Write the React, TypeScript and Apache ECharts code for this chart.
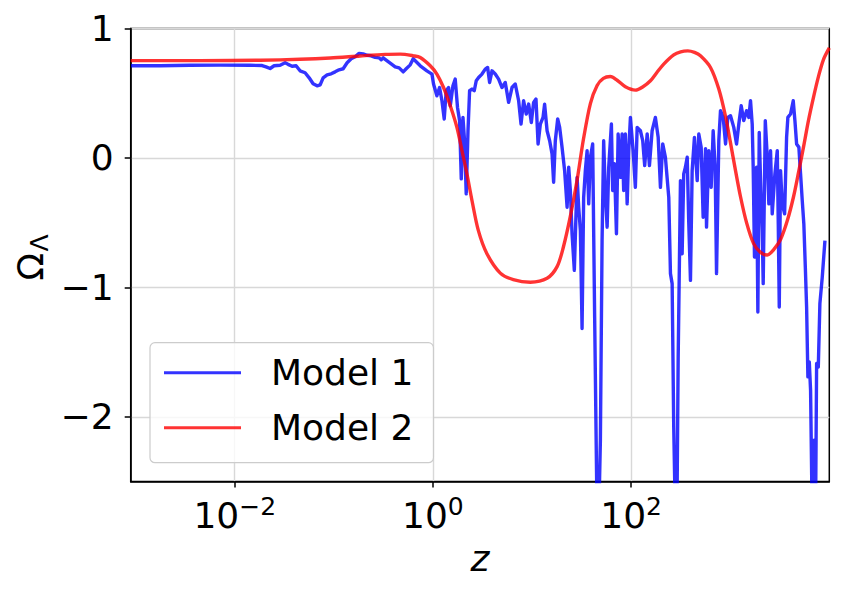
import React, { useEffect, useRef } from 'react';
import * as echarts from 'echarts';

// Model 1 (blue, noisy) — x stored as log10(z)
const blueLogZ = [
  -3.047, -2.755, -2.452, -2.148, -1.845, -1.724, -1.684, -1.643, -1.603, -1.542,
  -1.492, -1.462, -1.421, -1.381, -1.341, -1.290, -1.249, -1.209, -1.169, -1.138,
  -1.108, -1.068, -1.027, -0.987, -0.947, -0.906, -0.866, -0.825, -0.785, -0.745,
  -0.704, -0.664, -0.624, -0.583, -0.543, -0.522, -0.502, -0.462, -0.421, -0.381,
  -0.341, -0.300, -0.270, -0.229, -0.199, -0.128, -0.061, -0.010, 0.006, 0.040,
  0.067, 0.091, 0.114, 0.134, 0.158, 0.175, 0.202, 0.225, 0.248, 0.269,
  0.286, 0.303, 0.319, 0.336, 0.354, 0.370, 0.394, 0.417, 0.437, 0.461,
  0.495, 0.528, 0.552, 0.572, 0.596, 0.629, 0.663, 0.697, 0.730, 0.764,
  0.798, 0.831, 0.865, 0.889, 0.915, 0.942, 0.966, 0.993, 1.016, 1.040,
  1.061, 1.084, 1.111, 1.127, 1.152, 1.178, 1.202, 1.218, 1.235, 1.259,
  1.279, 1.303, 1.329, 1.354, 1.370, 1.387, 1.404, 1.427, 1.455, 1.471,
  1.488, 1.505, 1.521, 1.538, 1.556, 1.572, 1.589, 1.612, 1.632, 1.657,
  1.673, 1.690, 1.707, 1.723, 1.740, 1.758, 1.774, 1.801, 1.814, 1.831,
  1.852, 1.869, 1.892, 1.909, 1.925, 1.942, 1.960, 1.976, 1.993, 2.020,
  2.043, 2.061, 2.094, 2.117, 2.137, 2.162, 2.185, 2.212, 2.245, 2.273,
  2.296, 2.319, 2.346, 2.380, 2.397, 2.414, 2.430, 2.447, 2.462, 2.475,
  2.498, 2.515, 2.531, 2.548, 2.566, 2.582, 2.599, 2.616, 2.639, 2.667,
  2.683, 2.707, 2.727, 2.751, 2.761, 2.784, 2.808, 2.828, 2.848, 2.862,
  2.885, 2.902, 2.929, 2.953, 2.976, 3.003, 3.036, 3.064, 3.087, 3.111,
  3.137, 3.165, 3.188, 3.205, 3.222, 3.232, 3.245, 3.266, 3.279, 3.293,
  3.309, 3.323, 3.333, 3.354, 3.374, 3.390, 3.407, 3.424, 3.451, 3.475,
  3.485, 3.495, 3.508, 3.525, 3.549, 3.569, 3.582, 3.609, 3.636, 3.653,
  3.670, 3.693, 3.710, 3.727, 3.743, 3.758, 3.771, 3.784, 3.798, 3.811,
  3.828, 3.846, 3.861, 3.872, 3.889, 3.905, 3.929, 3.956,
];
const blueOmega = [
  0.712, 0.712, 0.716, 0.717, 0.716, 0.714, 0.704, 0.691, 0.712, 0.716,
  0.735, 0.723, 0.708, 0.712, 0.673, 0.658, 0.619, 0.573, 0.557, 0.565,
  0.619, 0.642, 0.650, 0.665, 0.681, 0.689, 0.735, 0.766, 0.781, 0.808,
  0.804, 0.793, 0.789, 0.777, 0.773, 0.758, 0.773, 0.750, 0.727, 0.704,
  0.696, 0.665, 0.689, 0.719, 0.766, 0.712, 0.673, 0.648, 0.571, 0.480,
  0.544, 0.442, 0.301, 0.519, 0.544, 0.403, 0.557, 0.609, 0.390, 0.288,
  -0.162, 0.313, 0.133, -0.278, 0.210, 0.519, 0.532, 0.519, 0.596, 0.621,
  0.648, 0.686, 0.699, 0.583, 0.673, 0.648, 0.609, 0.544, 0.583, 0.429,
  0.544, 0.571, 0.442, 0.262, 0.442, 0.339, 0.416, 0.274, 0.429, 0.455,
  0.108, 0.262, 0.313, 0.416, 0.210, 0.133, 0.031, -0.188, 0.133, 0.301,
  0.236, 0.082, -0.098, -0.381, -0.072, -0.252, -0.586, -0.869, -0.150, -0.381,
  -0.561, -1.318, -0.304, -0.098, 0.056, -0.355, 0.005, 0.108, -1.229, -2.8,
  -2.8, -2.180, -0.638, 0.133, -0.278, -0.535, -0.072, 0.262, -0.252, -0.044,
  -0.586, 0.185, -0.150, 0.185, -0.252, 0.185, -0.355, 0.056, 0.313, 0.056,
  -0.227, 0.236, 0.210, 0.133, -0.059, 0.185, -0.059, 0.210, 0.313, 0.159,
  -0.227, 0.108, 0.005, -0.304, -0.894, -0.971, -2.077, -2.8, -2.8, -1.537,
  -0.175, -0.740, -0.123, -0.072, 0.005, -0.509, -0.946, -0.098, 0.159, -0.175,
  0.185, 0.082, -0.458, 0.072, -0.535, 0.056, -0.227, 0.210, -0.072, -0.894,
  0.133, 0.365, 0.313, 0.108, 0.313, 0.326, 0.236, 0.108, 0.262, 0.403,
  0.288, 0.365, 0.313, 0.442, 0.262, -0.072, -0.766, -0.072, -1.190, 0.197,
  -0.252, -0.561, -0.971, 0.288, 0.005, -0.355, 0.056, -0.432, -0.123, 0.056,
  -0.509, -1.152, -0.098, -0.355, -0.432, 0.159, 0.313, 0.339, 0.442, 0.288,
  0.108, 0.082, -0.123, -0.329, -0.509, -0.843, -1.152, -1.692, -1.576, -1.794,
  -2.8, -2.180, -2.8, -1.588, -1.615, -1.126, -0.921, -0.638,
];

// Model 2 (red, smooth) — x stored as log10(z)
const redLogZ = [
  -3.05, -2.351, -1.744, -1.341, -1.037, -0.734, -0.482, -0.330, -0.196, -0.128,
  -0.027, 0.040, 0.107, 0.175, 0.242, 0.293, 0.343, 0.394, 0.458, 0.545,
  0.680, 0.811, 0.983, 1.152, 1.253, 1.316, 1.387, 1.455, 1.518, 1.589,
  1.657, 1.720, 1.790, 1.859, 1.942, 2.043, 2.120, 2.195, 2.260, 2.329,
  2.430, 2.500, 2.572, 2.640, 2.700, 2.801, 2.885, 2.953, 3.003, 3.054,
  3.104, 3.165, 3.235, 3.306, 3.374, 3.437, 3.508, 3.578, 3.639, 3.690,
  3.740, 3.790, 3.841, 3.891, 3.941, 4.0,
];
const redOmega = [
  0.752, 0.752, 0.755, 0.762, 0.772, 0.788, 0.800, 0.802, 0.789, 0.776,
  0.712, 0.648, 0.544, 0.403, 0.236, 0.056, -0.123, -0.329, -0.56, -0.74,
  -0.89, -0.94, -0.96, -0.93, -0.84, -0.69, -0.45, -0.17, 0.14, 0.42,
  0.56, 0.615, 0.629, 0.60, 0.55, 0.524, 0.55, 0.596, 0.66, 0.725,
  0.796, 0.82, 0.827, 0.815, 0.789, 0.699, 0.532, 0.32, 0.116, -0.10,
  -0.30, -0.50, -0.66, -0.73, -0.75, -0.71, -0.63, -0.48, -0.30, -0.11,
  0.085, 0.29, 0.47, 0.63, 0.76, 0.85,
];

const seriesNames = ['Model 1', 'Model 2'];
const xTickExponents = [-2, 0, 2];
const yTickValues = [-2, -1, 0, 1];
const xRange = [-3.05, 4.0];
const yRange = [-2.5, 1];

const FONT = '"DejaVu Sans", sans-serif';
const fmtMinus = (v: number) => (v < 0 ? '\u2212' + Math.abs(v) : String(v));

export default function App() {
  const ref = useRef<HTMLDivElement>(null);
  useEffect(() => {
    const chart = echarts.init(ref.current as HTMLDivElement, null, { renderer: 'svg' });
    const blueData = blueLogZ.map((x, i) => [x, blueOmega[i]]);
    const redData = redLogZ.map((x, i) => [x, redOmega[i]]);
    chart.setOption({
      animation: false,
      grid: {
        left: 130.7,
        top: 28.5,
        width: 698.6,
        height: 453,
        show: true,
        borderColor: '#000',
        borderWidth: 1.5,
        backgroundColor: 'transparent',
        containLabel: false,
      },
      xAxis: {
        type: 'value',
        min: xRange[0],
        max: xRange[1],
        axisLine: { show: true, onZero: false, lineStyle: { color: '#000', width: 1.5 } },
        axisTick: { show: true, customValues: xTickExponents, length: 6, lineStyle: { color: '#000', width: 1.5 } },
        axisLabel: {
          customValues: xTickExponents,
          margin: 12,
          color: '#000',
          fontFamily: FONT,
          formatter: (v: number) => `{b|10}{s|${fmtMinus(v)}}`,
          rich: {
            b: { fontSize: 36, fontFamily: FONT, color: '#000', lineHeight: 40, verticalAlign: 'bottom' },
            s: { fontSize: 25, fontFamily: FONT, color: '#000', lineHeight: 20, verticalAlign: 'top' },
          },
        },
        splitLine: { show: true, lineStyle: { color: '#d8d8d8', width: 1.4 } },
        name: 'z',
        nameLocation: 'middle',
        nameGap: 59,
        nameTextStyle: { fontSize: 36, fontStyle: 'italic', fontFamily: FONT, color: '#000', verticalAlign: 'top' },
      },
      yAxis: {
        type: 'value',
        min: yRange[0],
        max: yRange[1],
        axisLine: { show: true, onZero: false, lineStyle: { color: '#000', width: 1.5 } },
        axisTick: { show: true, customValues: yTickValues, length: 6, lineStyle: { color: '#000', width: 1.5 } },
        axisLabel: {
          customValues: yTickValues,
          margin: 17,
          fontSize: 36,
          fontFamily: FONT,
          color: '#000',
          formatter: (v: number) => fmtMinus(v),
        },
        splitLine: { show: true, lineStyle: { color: '#d8d8d8', width: 1.4 } },
      },
      legend: {
        data: seriesNames,
        orient: 'vertical',
        left: 150,
        top: 342.7,
        icon: 'rect',
        itemWidth: 77,
        itemHeight: 3,
        itemGap: 15,
        selectedMode: false,
        padding: [10, 20, 15, 14],
        backgroundColor: 'rgba(255,255,255,0.8)',
        borderColor: '#cccccc',
        borderWidth: 1.2,
        borderRadius: 5,
        textStyle: {
          fontSize: 36,
          fontFamily: FONT,
          color: '#000',
          lineHeight: 40,
          padding: [0, 0, 0, 25],
        },
      },
      graphic: [
        {
          type: 'text',
          x: 30,
          y: 266.8,
          rotation: Math.PI / 2,
          style: { text: '\u03A9', font: '36px "DejaVu Sans"', fill: '#000', align: 'center', verticalAlign: 'middle' },
        },
        {
          type: 'text',
          x: 39,
          y: 243,
          rotation: Math.PI / 2,
          style: { text: '\u039B', font: '25px "DejaVu Sans"', fill: '#000', align: 'center', verticalAlign: 'middle' },
        },
      ],
      series: [
        {
          name: seriesNames[0],
          type: 'line',
          data: blueData,
          symbol: 'none',
          clip: true,
          lineStyle: { color: 'rgba(0,0,255,0.8)', width: 3.4, join: 'round' },
          itemStyle: { color: 'rgba(0,0,255,0.8)' },
          z: 2,
        },
        {
          name: seriesNames[1],
          type: 'line',
          data: redData,
          symbol: 'none',
          smooth: 0.3,
          clip: true,
          lineStyle: { color: 'rgba(255,0,0,0.8)', width: 3.4, join: 'round' },
          itemStyle: { color: 'rgba(255,0,0,0.8)' },
          z: 3,
        },
      ],
    });
    return () => chart.dispose();
  }, []);
  return (
    <div
      ref={ref}
      style={{ position: 'absolute', left: 0, top: 0, width: 843, height: 595, background: '#fff' }}
    />
  );
}
